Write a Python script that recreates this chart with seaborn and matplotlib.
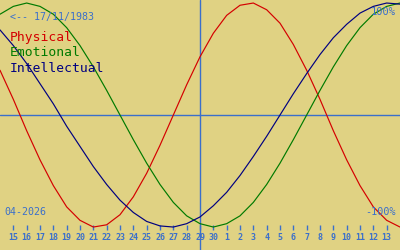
import matplotlib
matplotlib.use("Agg")
import matplotlib.pyplot as plt
import seaborn as sns
import pandas as pd

# Day offsets from 14-04-2026 (0) to 14-05-2026 (30)
days = list(range(31))
physical = [0.40, 0.14, -0.14, -0.40, -0.63, -0.82, -0.94, -1.00, -0.98, -0.89,
            -0.73, -0.52, -0.27, 0.00, 0.27, 0.52, 0.73, 0.89, 0.98, 1.00,
            0.94, 0.82, 0.63, 0.40, 0.14, -0.14, -0.40, -0.63, -0.82, -0.94, -1.00]
emotional = [0.90, 0.97, 1.00, 0.97, 0.90, 0.78, 0.62, 0.43, 0.22, 0.00,
             -0.22, -0.43, -0.62, -0.78, -0.90, -0.97, -1.00, -0.97, -0.90, -0.78,
             -0.62, -0.43, -0.22, 0.00, 0.22, 0.43, 0.62, 0.78, 0.90, 0.97, 1.00]
intellectual = [0.76, 0.62, 0.46, 0.28, 0.10, -0.10, -0.28, -0.46, -0.62, -0.76,
                -0.87, -0.95, -0.99, -1.00, -0.97, -0.91, -0.81, -0.69, -0.54, -0.37,
                -0.19, 0.00, 0.19, 0.37, 0.54, 0.69, 0.81, 0.91, 0.97, 1.00, 0.99]
series_names = ["Physical", "Emotional", "Intellectual"]
tick_positions = list(range(1, 30))
tick_labels = ["15", "16", "17", "18", "19", "20", "21", "22", "23", "24", "25",
               "26", "27", "28", "29", "30", "1", "2", "3", "4", "5", "6", "7",
               "8", "9", "10", "11", "12", "13"]
today = 15
birth_label = "<-- 17/11/1983"
month_label = "04-2026"

BG = "#E0D283"
TXT = "#3A6FCB"
colors = {"Physical": "#D40000", "Emotional": "#007A00", "Intellectual": "#000080"}

df = pd.DataFrame({
    "day": days * 3,
    "value": physical + emotional + intellectual,
    "series": sum([[n] * len(days) for n in series_names], []),
})

sns.set_style("white")
plt.rcParams["font.family"] = ["DejaVu Sans Mono"]

fig = plt.figure(figsize=(4, 2.5), dpi=100, facecolor=BG)
ax = fig.add_axes([0, 0, 1, 1], facecolor=BG)

ax.axhline(0, color=TXT, lw=1.0, zorder=1)
ax.axvline(today, color=TXT, lw=1.0, zorder=1)

sns.lineplot(data=df, x="day", y="value", hue="series", palette=colors,
             hue_order=series_names, ax=ax, lw=0.85, legend=False, zorder=3)

ax.set_xlim(0, 30)
ax.set_ylim(-1.205, 1.027)
ax.axis("off")

# Day ticks and labels
xt = ax.get_xaxis_transform()
ax.vlines(tick_positions, 0.08, 0.10, transform=xt, color=TXT, lw=1.0)
for p, lab in zip(tick_positions, tick_labels):
    ax.text(p, 0.048, lab, transform=xt, ha="center", va="center",
            color=TXT, fontsize=6.0, fontweight="bold")

def px(x, y):
    return x / 400, 1 - y / 250

fig.text(*px(10, 17), birth_label, color=TXT, fontsize=7.2, va="center", ha="left")
fig.text(*px(10, 38), "Physical", color=colors["Physical"], fontsize=9.4, va="center", ha="left")
fig.text(*px(10, 53), "Emotional", color=colors["Emotional"], fontsize=9.4, va="center", ha="left")
fig.text(*px(10, 68), "Intellectual", color=colors["Intellectual"], fontsize=9.4, va="center", ha="left")
fig.text(*px(396, 12), "100%", color=TXT, fontsize=7.5, va="center", ha="right")
fig.text(*px(396, 212), "-100%", color=TXT, fontsize=7.3, va="center", ha="right")
fig.text(*px(4, 212), month_label, color=TXT, fontsize=7.2, va="center", ha="left")

fig.savefig("out.png", dpi=100, facecolor=BG)
